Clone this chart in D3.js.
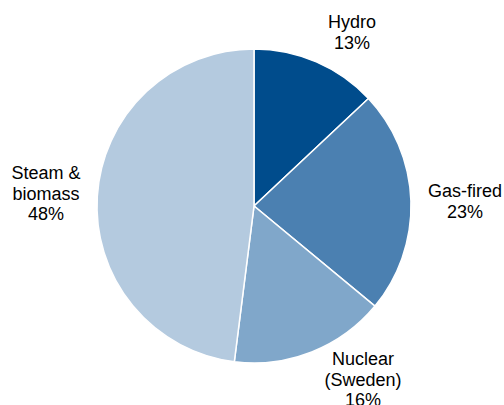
<!DOCTYPE html>
<html>
<head>
<meta charset="utf-8">
<script src="https://cdn.jsdelivr.net/npm/d3@7"></script>
<style>
  html, body { margin: 0; padding: 0; background: #fff; }
  svg text { font-family: "Liberation Sans", Arial, sans-serif; fill: #000; }
</style>
</head>
<body>
<svg id="chart" width="504" height="405"></svg>
<script>
// Generation mix by source
const categories = ["Hydro", "Gas-fired", "Nuclear (Sweden)", "Steam & biomass"];
const shares = [13, 23, 16, 48];
const labelLines = [["Hydro"], ["Gas-fired"], ["Nuclear", "(Sweden)"], ["Steam &", "biomass"]];
const colors = ["#004c8c", "#4b80b1", "#80a7ca", "#b4cadf"];

const width = 504, height = 405;
const cx = 254, cy = 206, radius = 157;

const svg = d3.select("#chart");
const g = svg.append("g").attr("transform", `translate(${cx},${cy})`);

const data = categories.map((c, i) => ({ name: c, value: shares[i], lines: labelLines[i], color: colors[i] }));

const pie = d3.pie().value(d => d.value).sort(null);
const arc = d3.arc().innerRadius(0).outerRadius(radius);
const arcs = pie(data);

g.selectAll("path.slice")
  .data(arcs)
  .join("path")
  .attr("class", "slice")
  .attr("d", arc)
  .attr("fill", d => d.data.color)
  .attr("stroke", "#fff")
  .attr("stroke-width", 1.5);

// Label anchors (centre x, first baseline) in page coordinates
const labelPos = [[352, 28], [465, 197], [363, 365], [46, 179]];
const fontSize = 18, lineH = 20.5;

arcs.forEach((a, i) => {
  const [x, y] = labelPos[i];
  const lines = a.data.lines.concat([a.data.value + "%"]);
  const t = svg.append("text")
    .attr("text-anchor", "middle")
    .attr("font-size", fontSize);
  lines.forEach((ln, j) => {
    t.append("tspan")
      .attr("x", x)
      .attr("y", y + j * lineH)
      .text(ln);
  });
});
</script>
</body>
</html>
